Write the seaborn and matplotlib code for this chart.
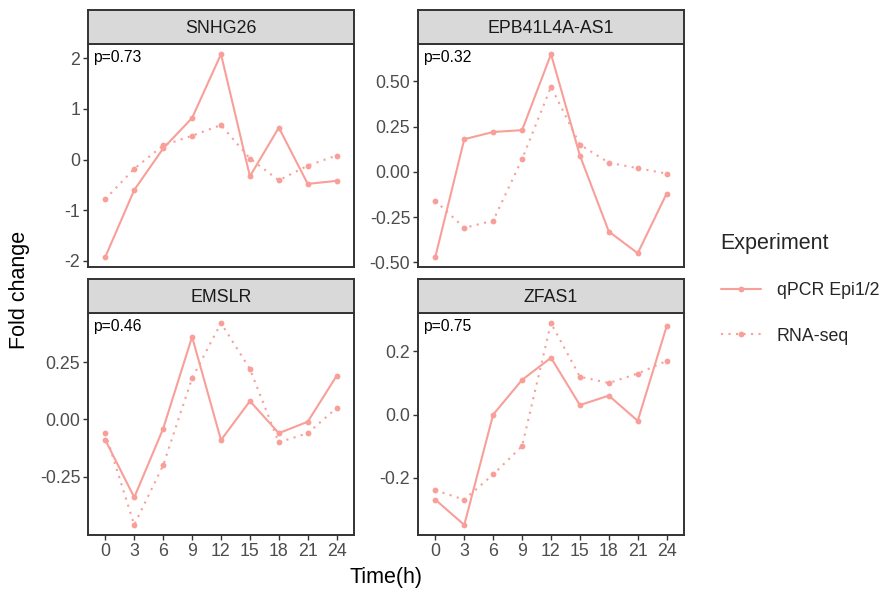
import numpy as np
import pandas as pd
import matplotlib
matplotlib.use("Agg")
import matplotlib.pyplot as plt
import seaborn as sns

times = [0, 3, 6, 9, 12, 15, 18, 21, 24]
genes = ["SNHG26", "EPB41L4A-AS1", "EMSLR", "ZFAS1"]
pvals = ["p=0.73", "p=0.32", "p=0.46", "p=0.75"]
experiments = ["qPCR Epi1/2", "RNA-seq"]

snhg26_qpcr = [-1.92, -0.60, 0.22, 0.82, 2.08, -0.33, 0.63, -0.48, -0.42]
snhg26_rna = [-0.78, -0.18, 0.28, 0.47, 0.68, 0.02, -0.41, -0.12, 0.08]
epb_qpcr = [-0.47, 0.18, 0.22, 0.23, 0.65, 0.09, -0.33, -0.45, -0.12]
epb_rna = [-0.16, -0.31, -0.27, 0.07, 0.47, 0.15, 0.05, 0.02, -0.01]
emslr_qpcr = [-0.09, -0.34, -0.04, 0.36, -0.09, 0.08, -0.06, -0.01, 0.19]
emslr_rna = [-0.06, -0.46, -0.20, 0.18, 0.42, 0.22, -0.10, -0.06, 0.05]
zfas1_qpcr = [-0.27, -0.35, 0.00, 0.11, 0.18, 0.03, 0.06, -0.02, 0.28]
zfas1_rna = [-0.24, -0.27, -0.19, -0.10, 0.29, 0.12, 0.10, 0.13, 0.17]

yticks = {
    "SNHG26": [-2, -1, 0, 1, 2],
    "EPB41L4A-AS1": [-0.50, -0.25, 0.0, 0.25, 0.50],
    "EMSLR": [-0.25, 0.0, 0.25],
    "ZFAS1": [-0.2, 0.0, 0.2],
}
ytick_labels = {
    "SNHG26": ["-2", "-1", "0", "1", "2"],
    "EPB41L4A-AS1": ["-0.50", "-0.25", "0.00", "0.25", "0.50"],
    "EMSLR": ["-0.25", "0.00", "0.25"],
    "ZFAS1": ["-0.2", "0.0", "0.2"],
}

series = {
    "SNHG26": (snhg26_qpcr, snhg26_rna),
    "EPB41L4A-AS1": (epb_qpcr, epb_rna),
    "EMSLR": (emslr_qpcr, emslr_rna),
    "ZFAS1": (zfas1_qpcr, zfas1_rna),
}

rows = []
for g in genes:
    q, r = series[g]
    for t, v in zip(times, q):
        rows.append((g, t, v, experiments[0]))
    for t, v in zip(times, r):
        rows.append((g, t, v, experiments[1]))
df = pd.DataFrame(rows, columns=["gene", "time", "fc", "Experiment"])

sns.set_theme(style="white")
plt.rcParams["font.family"] = ["Liberation Sans", "DejaVu Sans"]

W, H = 885, 592
fig = plt.figure(figsize=(W / 100, H / 100), dpi=100)

color = "#F99F99"
border = "#333333"
tick_col = "#4D4D4D"

# panel boxes in pixels: (left, top, right, bottom)
boxes = {
    "SNHG26": (88, 44, 354, 267),
    "EPB41L4A-AS1": (418, 44, 684, 267),
    "EMSLR": (88, 313, 354, 535),
    "ZFAS1": (418, 313, 684, 535),
}
strip_h = 34

def px2fig(l, t, r, b):
    return [l / W, 1 - b / H, (r - l) / W, (b - t) / H]

handles = labels = None
for gi, g in enumerate(genes):
    l, t, r, b = boxes[g]
    ax = fig.add_axes(px2fig(l, t, r, b))
    sub = df[df.gene == g]
    sns.lineplot(data=sub, x="time", y="fc", style="Experiment",
                 style_order=experiments,
                 markers={experiments[0]: "o", experiments[1]: "o"},
                 dashes={experiments[0]: "", experiments[1]: (1, 2.6)},
                 color=color, linewidth=1.5, markersize=4.2,
                 markeredgewidth=0, ax=ax, legend=(gi == 0))
    if gi == 0:
        handles, labels = ax.get_legend_handles_labels()
        ax.get_legend().remove()
    vmin, vmax = sub.fc.min(), sub.fc.max()
    pad = (vmax - vmin) * 0.05
    ax.set_ylim(vmin - pad, vmax + pad)
    ax.set_xlim(-1.8, 25.8)
    ax.set_xticks(times)
    ax.set_yticks(yticks[g])
    ax.set_yticklabels(ytick_labels[g])
    ax.set_xlabel("")
    ax.set_ylabel("")
    if b < 300:
        ax.set_xticklabels([])
        ax.tick_params(axis="x", length=0)
    else:
        ax.set_xticklabels([str(x) for x in times])
        ax.tick_params(axis="x", length=3.5)
    ax.tick_params(axis="both", direction="out", color=border, width=1.0,
                   labelsize=12.8, labelcolor=tick_col, pad=2)
    ax.tick_params(axis="y", length=3.5, left=True)
    ax.tick_params(axis="x", bottom=(b > 300))
    for s in ax.spines.values():
        s.set_color(border)
        s.set_linewidth(1.4)
    ax.grid(False)
    ax.text(0.018, 0.975, pvals[gi], transform=ax.transAxes, ha="left",
            va="top", fontsize=11.3, color="black")
    # strip
    sax = fig.add_axes(px2fig(l, t - strip_h, r, t))
    sax.set_facecolor("#D9D9D9")
    sax.set_xticks([])
    sax.set_yticks([])
    for s in sax.spines.values():
        s.set_color(border)
        s.set_linewidth(1.4)
    sax.text(0.5, 0.47, g, transform=sax.transAxes, ha="center", va="center",
             fontsize=12.8, color="#1A1A1A")

fig.text(20 / W, 1 - 290 / H, "Fold change", rotation=90, ha="center",
         va="center", fontsize=15.5, color="black")
fig.text(386 / W, 1 - 578 / H, "Time(h)", ha="center", va="center",
         fontsize=15.5, color="black")

leg = fig.legend(handles, labels, loc="upper left",
                 bbox_to_anchor=(702 / W, 1 - 214 / H), frameon=False,
                 title="Experiment", title_fontsize=15.5, fontsize=12.8,
                 handlelength=2.25, handletextpad=0.9, labelspacing=1.6,
                 borderpad=0.55, numpoints=1, markerscale=1.0)
leg._legend_box.align = "left"

fig.savefig("out.png", dpi=100)
